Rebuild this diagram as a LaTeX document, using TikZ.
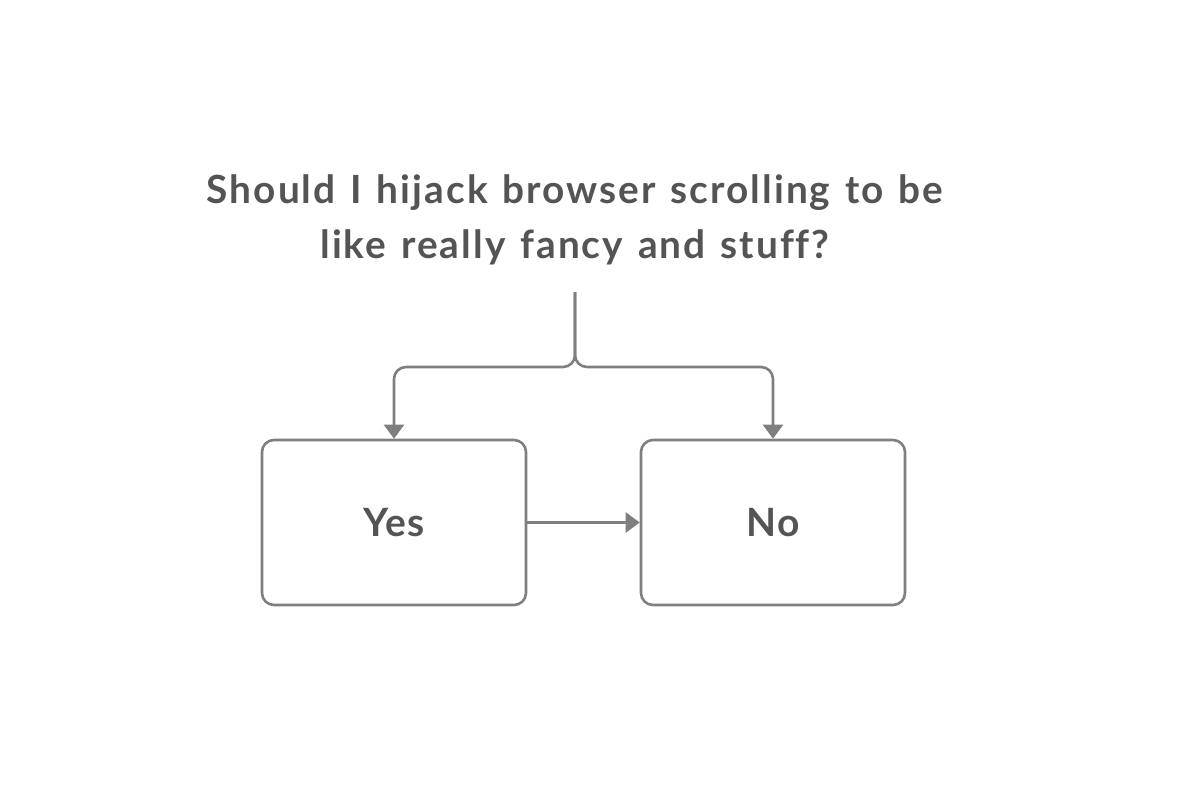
\documentclass[tikz,border=0pt]{standalone}
\usepackage{fontspec}
\setmainfont{Lato}[Ligatures=NoCommon]
\newfontfamily\titlefont{Lato}[Ligatures=NoCommon, LetterSpace=5.2, WordSpace=1.3]
\newfontfamily\boxfont{Lato}[Ligatures=NoCommon, LetterSpace=3]
\usetikzlibrary{arrows.meta}
\definecolor{linegray}{HTML}{7F7F7F}
\definecolor{textgray}{HTML}{545454}
\begin{document}
\begin{tikzpicture}[x=1pt,y=-1pt,
  box/.style={draw=linegray, line width=2.6pt, rounded corners=12pt, minimum width=264pt, minimum height=165pt, inner sep=0pt, text=textgray, font=\boxfont\fontsize{39}{46}\selectfont\bfseries},
  conn/.style={draw=linegray, line width=2.6pt, rounded corners=12pt, -{Triangle[width=20pt,length=14pt]}},
  title/.style={text=textgray, align=center, font=\titlefont\fontsize{38.8}{55}\selectfont\bfseries}]
\useasboundingbox (0,0) rectangle (1200,796);
\node[title] (q) at (575,220) {Should I hijack browser scrolling to be\\like really fancy and stuff?};
\node[box] (yes) at (394,522.5) {Yes};
\node[box] (no) at (773,522.5) {No};
\coordinate (top) at (575,292);
\draw[conn] (top) -- (575,367) -| (yes.north);
\draw[conn] (top) -- (575,367) -| (no.north);
\draw[conn, rounded corners=0pt] (yes.east) -- (no.west);
\end{tikzpicture}
\end{document}
